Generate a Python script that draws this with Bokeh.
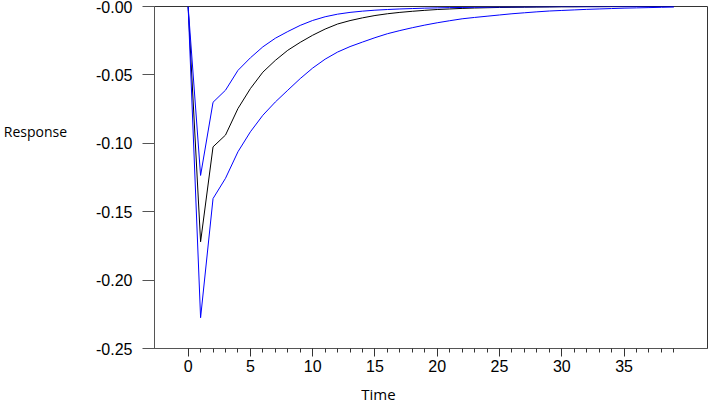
from bokeh.plotting import figure
from bokeh.models import Range1d, FixedTicker, CustomJSTickFormatter
from bokeh.embed import file_html
from bokeh.resources import INLINE

time = list(range(40))
response = [0.0, -0.172, -0.1026, -0.094, -0.0746, -0.060, -0.048, -0.0394, -0.032, -0.0262,
            -0.021, -0.0165, -0.0128, -0.0103, -0.0083, -0.0066, -0.0053, -0.0043, -0.0035, -0.0028,
            -0.0022, -0.0018, -0.0014, -0.0011, -0.0009, -0.0007, -0.0006, -0.0005, -0.0004, -0.0003,
            -0.0002, -0.0002, -0.0001, -0.0001, -0.0001, -0.0001, 0.0, 0.0, 0.0, 0.0]
upper = [0.0, -0.1235, -0.070, -0.0612, -0.0467, -0.0375, -0.0295, -0.0232, -0.0183, -0.0138,
         -0.0102, -0.0075, -0.0056, -0.0043, -0.0034, -0.0027, -0.0022, -0.0018, -0.0015, -0.0012,
         -0.001, -0.0008, -0.0007, -0.0006, -0.0005, -0.0004, -0.0003, -0.0003, -0.0002, -0.0002,
         -0.0001, -0.0001, -0.0001, -0.0001, 0.0, 0.0, 0.0, 0.0, 0.0, 0.0]
lower = [0.0, -0.2275, -0.1404, -0.1256, -0.1062, -0.0916, -0.0795, -0.0698, -0.0612, -0.0527,
         -0.045, -0.0385, -0.0333, -0.0293, -0.026, -0.0228, -0.0199, -0.0176, -0.0155, -0.0136,
         -0.0119, -0.0104, -0.009, -0.008, -0.0071, -0.0062, -0.0053, -0.0046, -0.0039, -0.0033,
         -0.0029, -0.0025, -0.0021, -0.0018, -0.0015, -0.0012, -0.001, -0.0008, -0.0006, -0.0004]

x_major_ticks = [0, 5, 10, 15, 20, 25, 30, 35]
x_minor_ticks = list(range(40))
y_ticks = [-0.25, -0.20, -0.15, -0.10, -0.05, 0.0]
x_title = "Time"
y_title = "Response"

NBSP = "\u00a0"

p = figure(width=709, height=406, output_backend="svg", toolbar_location=None,
           x_range=Range1d(-2.7, 41.7), y_range=Range1d(-0.25, 0.0),
           min_border_left=154, min_border_right=2, min_border_top=6, min_border_bottom=57)
p.background_fill_color = "white"
p.border_fill_color = "white"
p.outline_line_color = "#333333"
p.outline_line_width = 1
p.xgrid.visible = False
p.ygrid.visible = False

p.line(time, response, line_color="black", line_width=1)
p.line(time, upper, line_color="#0000ff", line_width=1)
p.line(time, lower, line_color="#0000ff", line_width=1)

xa = p.xaxis[0]
xa.ticker = FixedTicker(ticks=x_major_ticks, minor_ticks=x_minor_ticks)
xa.major_tick_out = 8
xa.major_tick_in = 0
xa.minor_tick_out = 4
xa.minor_tick_in = 0
xa.axis_line_color = "#555555"
xa.major_tick_line_color = "#333333"
xa.minor_tick_line_color = "#333333"
xa.major_label_text_font = "Liberation Sans"
xa.major_label_text_font_size = "16px"
xa.major_label_text_color = "black"
xa.major_label_standoff = 3
# trailing non-breaking spaces shift the centred title left, as in the reference
xa.axis_label = x_title + NBSP * 27
xa.axis_label_text_font = "Open Sans"
xa.axis_label_text_font_size = "15px"
xa.axis_label_text_font_style = "normal"
xa.axis_label_text_color = "black"
xa.axis_label_standoff = 9

ya = p.yaxis[0]
ya.ticker = FixedTicker(ticks=y_ticks)
ya.formatter = CustomJSTickFormatter(code="return '-' + Math.abs(tick).toFixed(2);")
ya.major_tick_out = 12
ya.major_tick_in = 0
ya.minor_tick_out = 0
ya.minor_tick_in = 0
ya.axis_line_color = "#555555"
ya.major_tick_line_color = "#555555"
ya.major_label_text_font = "Liberation Sans"
ya.major_label_text_font_size = "16px"
ya.major_label_text_color = "black"
ya.major_label_standoff = 10
# trailing empty lines lift the horizontal title above the frame's centre
ya.axis_label = y_title + "\n" * 4
if hasattr(ya, "axis_label_orientation"):
    ya.axis_label_orientation = "horizontal"
ya.axis_label_text_font = "Open Sans"
ya.axis_label_text_font_size = "14px"
ya.axis_label_text_font_style = "normal"
ya.axis_label_text_color = "black"
ya.axis_label_standoff = 26

open("out.html", "w").write(file_html(p, INLINE))
